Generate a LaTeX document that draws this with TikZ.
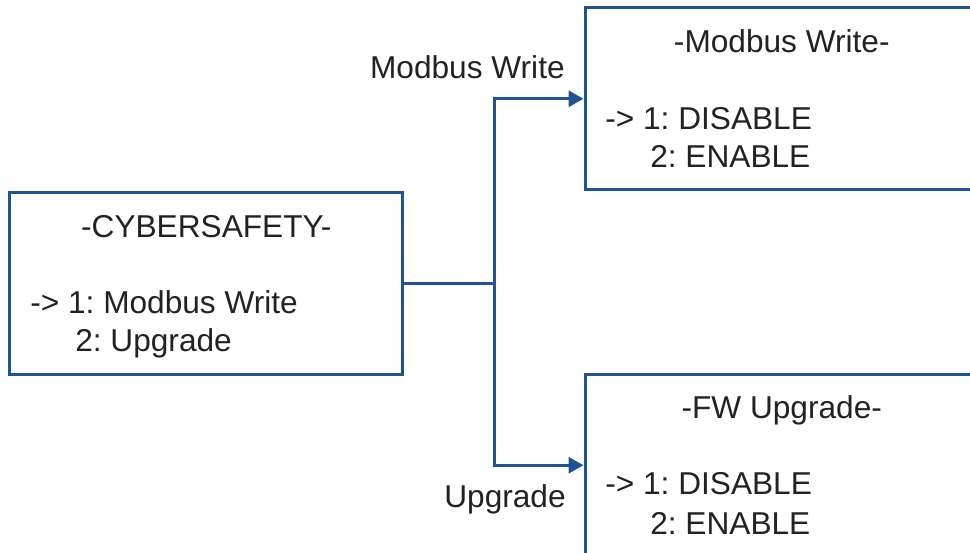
\documentclass[tikz,border=0pt]{standalone}
\usepackage{fontspec}
\setmainfont{Liberation Sans}
\usepackage{xcolor}
\usepackage{tikz}
\usetikzlibrary{arrows.meta, positioning}
\definecolor{wireblue}{RGB}{31,84,148}
\definecolor{textgray}{RGB}{34,34,34}
\frenchspacing

\begin{document}
\begin{tikzpicture}[
  x=0.02cm, y=-0.02cm,
  menu/.style={draw=wireblue, line width=1.7pt, fill=none,
               minimum width=7.87cm, minimum height=3.65cm, inner sep=0pt},
  txt/.style={font=\fontsize{18}{21}\selectfont, text=textgray, inner sep=0pt},
  wire/.style={draw=wireblue, line width=1.7pt},
  arrow/.style={wire, -{Triangle[length=0.3cm, width=0.32cm]}}
]
  \useasboundingbox (0,0) rectangle (970,553);
  \clip (0,0) rectangle (970,553);

  \node[menu] (main) at (206.25,283.75) {};
  \node[menu] (mw)   at (781.75,98.75)  {};
  \node[menu] (fw)   at (781.75,465.25) {};

  \node[txt, anchor=base]      (mainT) at (206.25,238) {-CYBERSAFETY-};
  \node[txt, anchor=base west] (main1) at (30,314)     {-> 1: Modbus Write};
  \node[txt, anchor=base west] (main2) at (75,352)     {2: Upgrade};

  \node[txt, anchor=base]      (mwT) at (781.75,53) {-Modbus Write-};
  \node[txt, anchor=base west] (mw1) at (605,130)   {-> 1: DISABLE};
  \node[txt, anchor=base west] (mw2) at (650,168)   {2: ENABLE};

  \node[txt, anchor=base]      (fwT) at (781.75,419) {-FW Upgrade-};
  \node[txt, anchor=base west] (fw1) at (605,495)    {-> 1: DISABLE};
  \node[txt, anchor=base west] (fw2) at (650,535)    {2: ENABLE};

  \node[txt, anchor=base east] (tagmw) at (565,79)  {Modbus Write};
  \node[txt, anchor=base east] (tagfw) at (566,507) {Upgrade};

  \coordinate (fork) at (494,283.75);
  \draw[wire]  (main.east) -- (fork);
  \draw[arrow] (fork) |- (mw.west);
  \draw[arrow] (fork) |- (fw.west);
\end{tikzpicture}
\end{document}
